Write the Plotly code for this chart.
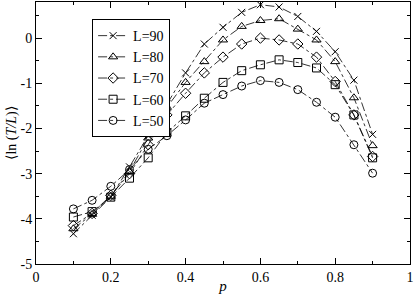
import plotly.graph_objects as go

p = [0.10, 0.15, 0.20, 0.25, 0.30, 0.35, 0.40, 0.45, 0.50, 0.55, 0.60, 0.65, 0.70, 0.75, 0.80, 0.85, 0.90]

L90 = [-4.33, -3.92, -3.52, -2.85, -2.16, -1.45, -0.77, -0.13, 0.24, 0.57, 0.74, 0.69, 0.48, 0.15, -0.30, -0.93, -2.13]
L80 = [-4.22, -3.90, -3.50, -2.95, -2.21, -1.53, -0.98, -0.52, -0.04, 0.26, 0.39, 0.43, 0.20, -0.04, -0.52, -1.32, -2.38]
L70 = [-4.15, -3.88, -3.48, -3.00, -2.36, -1.70, -1.22, -0.77, -0.42, -0.13, 0.00, -0.04, -0.13, -0.42, -0.96, -1.70, -2.62]
L60 = [-3.96, -3.84, -3.52, -3.10, -2.65, -2.09, -1.72, -1.33, -0.98, -0.72, -0.59, -0.48, -0.54, -0.66, -1.03, -1.70, -2.65]
L50 = [-3.78, -3.59, -3.28, -2.91, -2.46, -2.16, -1.81, -1.44, -1.25, -1.06, -0.94, -0.98, -1.14, -1.42, -1.75, -2.36, -2.99]

series_names = ["L=90", "L=80", "L=70", "L=60", "L=50"]
series_values = [L90, L80, L70, L60, L50]
symbols = ["x-thin-open", "triangle-up-open", "diamond-open", "square-open", "circle-open"]

x_tickvals = [0, 0.2, 0.4, 0.6, 0.8, 1]
x_ticktext = ["0", "0.2", "0.4", "0.6", "0.8", "1"]
y_tickvals = [0, -1, -2, -3, -4, -5]
y_ticktext = ["0", "-1", "-2", "-3", "-4", "-5"]

FONT = "Liberation Serif, Times New Roman, Times, serif"

fig = go.Figure()
for name, vals, sym in zip(series_names, series_values, symbols):
    fig.add_trace(go.Scatter(
        x=p, y=vals, name=name, mode="lines+markers",
        line=dict(color="black", width=0.8, dash="dashdot"),
        marker=dict(symbol=sym, size=8 if sym != "x-thin-open" else 7,
                    color="black", line=dict(color="black", width=1)),
    ))

fig.update_layout(
    template="none",
    width=415, height=294,
    margin=dict(l=36, r=5, t=2, b=30, autoexpand=False),
    paper_bgcolor="white", plot_bgcolor="white",
    font=dict(family=FONT, size=14, color="black"),
    showlegend=True,
    legend=dict(x=0.15, y=0.935, xanchor="left", yanchor="top",
                bordercolor="black", borderwidth=1, bgcolor="white",
                font=dict(family=FONT, size=14), tracegroupgap=0,
                itemwidth=30),
)
fig.update_xaxes(
    automargin=False,
    range=[0, 1], tickvals=x_tickvals, ticktext=x_ticktext,
    ticks="inside", ticklen=6, tickcolor="black", tickwidth=1,
    minor=dict(ticks="inside", ticklen=3, dtick=0.1, tickcolor="black", showgrid=False),
    showline=True, linecolor="black", linewidth=1, mirror="allticks",
    showgrid=False, zeroline=False,
    title=dict(text="<i>p</i>", font=dict(family=FONT, size=15), standoff=0),
    tickfont=dict(family=FONT, size=14),
)
fig.update_yaxes(
    automargin=False,
    range=[-5, 0.8], tickvals=y_tickvals, ticktext=y_ticktext,
    ticks="inside", ticklen=6, tickcolor="black", tickwidth=1,
    minor=dict(ticks="inside", ticklen=3, dtick=0.5, tickcolor="black", showgrid=False),
    showline=True, linecolor="black", linewidth=1, mirror="allticks",
    showgrid=False, zeroline=False,
    title=dict(text="⟨ln (<i>T/L</i>)⟩", font=dict(family=FONT, size=14), standoff=0),
    tickfont=dict(family=FONT, size=14),
)

fig.write_html("out.html", config={"displayModeBar": False},
               post_script="document.body.style.margin='0';")
